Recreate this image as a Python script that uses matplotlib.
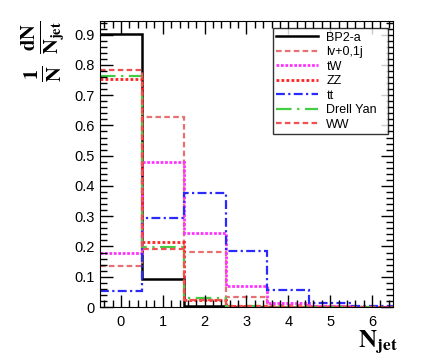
import numpy as np
import matplotlib.pyplot as plt
from matplotlib.ticker import MultipleLocator, FuncFormatter

plt.rcParams['font.family'] = ['Liberation Sans', 'DejaVu Sans']
plt.rcParams['mathtext.fontset'] = 'stix'

edges = np.arange(-0.5, 7.0, 1.0)

bp2a = [0.903, 0.094, 0.003, 0.0, 0.0, 0.0, 0.0]
lv01j = [0.136, 0.628, 0.183, 0.034, 0.008, 0.002, 0.0]
tw = [0.178, 0.478, 0.246, 0.070, 0.012, 0.002, 0.0]
zz = [0.752, 0.216, 0.022, 0.003, 0.0, 0.0, 0.0]
tt = [0.054, 0.295, 0.376, 0.186, 0.056, 0.013, 0.003]
dy = [0.763, 0.198, 0.030, 0.004, 0.0, 0.0, 0.0]
ww = [0.782, 0.191, 0.022, 0.003, 0.0, 0.0, 0.0]

fig = plt.figure(figsize=(4.43, 3.6), dpi=100)
ax = fig.add_axes([0.2257, 0.1472, 0.6614, 0.7945])

ax.stairs(bp2a, edges, baseline=None, color='black', lw=1.8, ls='-', label='BP2-a')
ax.stairs(lv01j, edges, baseline=None, color='#e87070', lw=1.6, ls=(0, (2.5, 1.5)), label='lv+0,1j')
ax.stairs(tw, edges, baseline=None, color='#ff33ff', lw=2.0, ls=(0, (1, 0.6)), label='tW')
ax.stairs(zz, edges, baseline=None, color='#ff2020', lw=2.0, ls=(0, (1, 0.8)), label='ZZ')
ax.stairs(tt, edges, baseline=None, color='#2a2aff', lw=1.6, ls=(0, (4, 1.5, 1, 1.5)), label='tt')
ax.stairs(dy, edges, baseline=None, color='#44cc44', lw=1.6, ls=(0, (7, 2.5, 1, 2.5)), label='Drell Yan')
ax.stairs(ww, edges, baseline=None, color='#f05050', lw=1.6, ls=(0, (2.5, 1.5)), label='WW')

ax.set_xlim(-0.5, 6.5)
ax.set_ylim(0, 0.945)
ax.xaxis.set_major_locator(MultipleLocator(1))
ax.xaxis.set_minor_locator(MultipleLocator(0.2))
ax.yaxis.set_major_locator(MultipleLocator(0.1))
ax.yaxis.set_minor_locator(MultipleLocator(0.02))
ax.yaxis.set_major_formatter(FuncFormatter(lambda v, p: '0' if abs(v) < 1e-9 else '%.1f' % v))
ax.tick_params(which='both', direction='in', top=True, right=True, labelsize=10.5)
ax.tick_params(which='major', length=9, width=1)
ax.tick_params(which='minor', length=5, width=1)
ax.tick_params(axis='x', pad=6)

leg = ax.legend(loc='upper left', bbox_to_anchor=(0.589, 0.615, 0.394, 0.3605),
                mode='expand', fancybox=False, edgecolor='black', fontsize=9,
                handlelength=3.3, handletextpad=0.7, borderaxespad=0,
                labelspacing=0.2, borderpad=0.3)
leg.get_frame().set_linewidth(1.0)

# y axis title, ROOT style: two stacked fractions
fig.text(0.097, 1 - 37 / 360, r'$\mathbf{\frac{dN}{N_{jet}}}$', rotation=90,
         fontsize=21, ha='center', va='center')
fig.text(0.097, 1 - 74 / 360, r'$\mathbf{\frac{1}{N}}$', rotation=90,
         fontsize=21, ha='center', va='center')
fig.text(0.897, 0.05, r'$\mathbf{N_{jet}}$', fontsize=18, ha='right', va='center')

fig.savefig('out.png', dpi=100)
